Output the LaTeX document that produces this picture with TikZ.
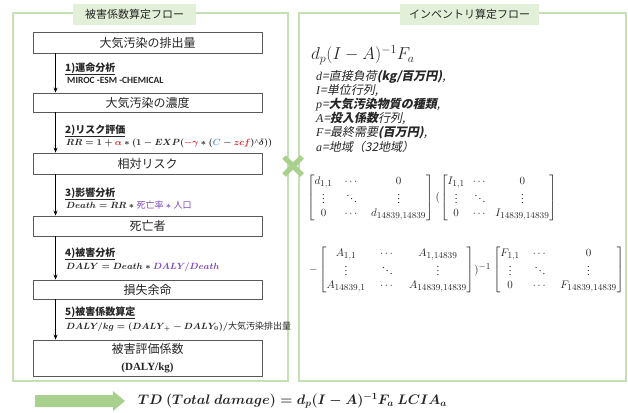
\documentclass[tikz,border=0pt]{standalone}
\usepackage{amsmath}
\usepackage{bm}
\usepackage{graphicx}
\usepackage[no-math]{fontspec}
\setmainfont{Liberation Serif}
\newfontfamily\jp{Noto Sans CJK JP}
\newfontfamily\jpit{Noto Sans CJK JP}[FakeSlant=0.2]
\newfontfamily\carl{Carlito}
\usetikzlibrary{arrows.meta}
\DeclareMathSizes{10.95}{10.95}{9}{7}
\definecolor{pgreen}{RGB}{197,224,180}
\definecolor{tgreen}{RGB}{226,240,217}
\definecolor{agreen}{RGB}{169,209,142}
\definecolor{bgray}{RGB}{89,89,89}
\definecolor{txt}{RGB}{38,38,38}
\definecolor{eqred}{RGB}{230,30,30}
\definecolor{eqblue}{RGB}{91,155,213}
\definecolor{ppl}{RGB}{125,70,190}
\newcommand\caret{\mbox{\textasciicircum}}
\newcommand\eqRR{{\boldmath$RR = 1 + {\color{eqred}\alpha} \ast (1 - EXP({\color{eqred}-\gamma} \ast ({\color{eqblue}C} - {\color{eqred}zcf})\caret\delta))$}}
\newcommand\eqDeath{{\boldmath$Death = RR \ast {\color{ppl}\mbox{\jp\mdseries 死亡率} \ast \mbox{\jp\mdseries 人口}}$}}
\newcommand\eqDALY{{\boldmath$DALY = Death \ast {\color{ppl}DALY/Death}$}}
\newcommand\eqDALYkg{{\boldmath$DALY/kg = (DALY_{\,+} -DALY_{0})/\mbox{\jp\mdseries 大気汚染排出量}$}}
\newcommand\matD{$\arraycolsep=6pt\begin{bmatrix} d_{1,1} & \cdots & 0\\ \vdots & \ddots & \vdots\\ 0 & \cdots & d_{14839,14839}\end{bmatrix}$}
\newcommand\matI{$\arraycolsep=4pt\begin{bmatrix} I_{1,1} & \cdots & 0\\ \vdots & \ddots & \vdots\\ 0 & \cdots & I_{14839,14839}\end{bmatrix}$}
\newcommand\matA{$\arraycolsep=7.25pt\begin{bmatrix} A_{1,1} & \cdots & A_{1,14839}\\ \vdots & \ddots & \vdots\\ A_{14839,1} & \cdots & A_{14839,14839}\end{bmatrix}$}
\newcommand\matF{$\arraycolsep=6.5pt\begin{bmatrix} F_{1,1} & \cdots & 0\\ \vdots & \ddots & \vdots\\ 0 & \cdots & F_{14839,14839}\end{bmatrix}$}
\newcommand\eqTD{\scalebox{0.96}{{\boldmath$TD\ (Total\ damage) = d_p(I-A)^{-1}F_a\ LCIA_a$}}}
\tikzset{
 panel/.style={draw=pgreen, line width=1.5pt},
 tab/.style={fill=tgreen, inner sep=0pt, font=\fontsize{11}{13}\jp, text=txt},
 box/.style={draw=bgray, line width=0.9pt, fill=white, minimum width=229pt, inner sep=0pt, font=\fontsize{12}{15}\jp, text=txt, align=center},
 arr/.style={-{Stealth[length=5pt,width=4pt]}, line width=0.8pt},
 head/.style={anchor=west, inner sep=0pt, font=\fontsize{10}{12}\jp\bfseries, text=txt},
 uline/.style={draw=txt, line width=0.6pt},
 eqn/.style={anchor=west, inner sep=0pt, font=\fontsize{9}{11}\selectfont, text=txt},
 rtxt/.style={anchor=west, inner sep=0pt, font=\fontsize{12}{14}\jpit, text=txt},
 mat/.style={anchor=west, inner sep=0pt, font=\fontsize{10.95}{13}\selectfont, text=txt},
}
\begin{document}
\begin{tikzpicture}[x=1pt,y=-1pt]
\useasboundingbox (0,0) rectangle (628,412);
% panels
\draw[panel] (13,13) rectangle (288,381);
\draw[panel] (299,13) rectangle (626,381);
\node[tab, minimum width=123pt, minimum height=21pt] (t1) at (134.5,14.5) {被害係数算定フロー};
\node[tab, minimum width=139pt, minimum height=21pt] (t2) at (469.5,14.5) {インベントリ算定フロー};
% boxes
\node[box, minimum height=21pt] (b1) at (147.5,42.5) {大気汚染の排出量};
\node[box, minimum height=19pt] (b2) at (147.5,102.5) {大気汚染の濃度};
\node[box, minimum height=21pt] (b3) at (147.5,163.5) {相対リスク};
\node[box, minimum height=20pt] (b4) at (147.5,226) {死亡者};
\node[box, minimum height=19pt] (b5) at (147.5,289.5) {損失余命};
\node[box, minimum height=36pt, font=\fontsize{12}{17}\jp] (b6) at (147.5,358) {被害評価係数\\{\rmfamily\bfseries\fontsize{11}{13}\selectfont (DALY/kg)}};
% arrows
\draw[arr] ([xshift=23pt]b1.south west) -- ([xshift=23pt]b2.north west);
\draw[arr] ([xshift=23pt]b2.south west) -- ([xshift=23pt]b3.north west);
\draw[arr] ([xshift=23pt]b3.south west) -- ([xshift=23pt]b4.north west);
\draw[arr] ([xshift=23pt]b4.south west) -- ([xshift=23pt]b5.north west);
\draw[arr] ([xshift=23pt]b5.south west) -- ([xshift=23pt]b6.north west);
% step labels
\node[head] (h1) at (65,68) {1)運命分析};
\node[head] (h2) at (65,130) {2)リスク評価};
\node[head] (h3) at (65,193) {3)影響分析};
\node[head] (h4) at (65,253) {4)被害分析};
\node[head] (h5) at (65,312) {5)被害係数算定};
\foreach \h in {h1,h2,h3,h4,h5} \draw[uline] ([yshift=-0.5pt]\h.south west) -- ([yshift=-0.5pt]\h.south east);
\node[anchor=west, inner sep=0pt, font=\fontsize{9.5}{11}\carl\bfseries, text=txt] (e1) at (67,80) {MIROC -ESM -CHEMICAL};
\node[eqn] (e2) at (66,143) {\eqRR};
\node[eqn] (e3) at (66,205) {\eqDeath};
\node[eqn] (e4) at (66,267) {\eqDALY};
\node[eqn] (e5) at (66,327) {\eqDALYkg};
% cross
\draw[agreen, line width=5pt] (284,157) -- (302,175) (284,175) -- (302,157);
% right panel
\node[anchor=west, inner sep=0pt, font=\fontsize{17.28}{20}\selectfont, text=txt] (f1) at (311,55) {$d_p(I-A)^{-1}F_a$};
\node[rtxt] (r1) at (316,77) {{\rmfamily\itshape d}=直接負荷{\bfseries(kg/百万円)},};
\node[rtxt] (r2) at (316,91) {{\rmfamily\itshape I}=単位行列,};
\node[rtxt] (r3) at (316,105) {{\rmfamily\itshape p}={\bfseries 大気汚染物質の種類},};
\node[rtxt] (r4) at (316,119) {{\rmfamily\itshape A}={\bfseries 投入係数}行列,};
\node[rtxt] (r5) at (316,133) {{\rmfamily\itshape F}=最終需要{\bfseries(百万円)},};
\node[rtxt] (r6) at (316,147) {{\rmfamily\itshape a}=地域（32地域）};
% matrices
\node[mat] (m1) at (307,198) {\matD};
\node[mat] (p1) at (m1.east) {$\,($};
\node[mat] (m2) at (p1.east) {\matI};
\node[mat] (mi) at (309,270) {$-$};
\node[mat] (m3) at (319,270) {\matA};
\node[mat] (p2) at (m3.east) {$)^{-1}\,$};
\node[mat] (m4) at (p2.east) {\matF};
% bottom
\fill[agreen] (35,395) -- (113,395) -- (113,391) -- (125,401) -- (113,411) -- (113,407) -- (35,407) -- cycle;
\node[anchor=west, inner sep=0pt, font=\fontsize{14.4}{17}\selectfont, text=txt] (td) at (138,401) {\eqTD};
\end{tikzpicture}
\end{document}
